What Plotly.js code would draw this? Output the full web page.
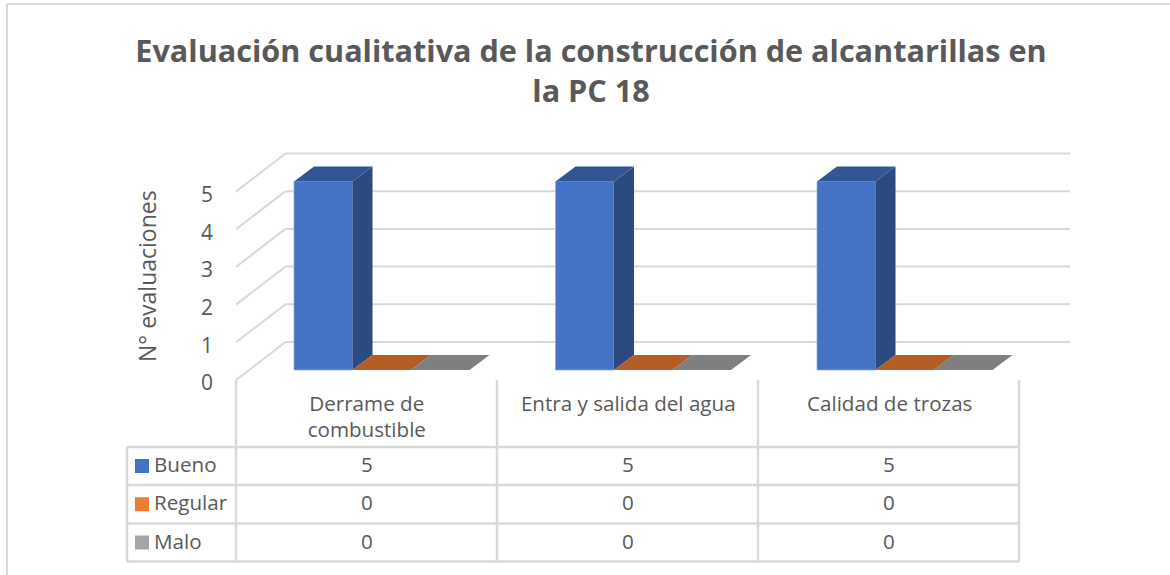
<!DOCTYPE html>
<html><head><meta charset="utf-8">
<script src="https://cdn.plot.ly/plotly-3.0.1.min.js"></script>
<style>html,body{margin:0;padding:0;background:#fff}#c{width:1170px;height:575px}</style>
</head><body><div id="c"></div>
<script>
const chartTitle = 'Evaluación cualitativa de la construcción de alcantarillas en<br>la PC 18';
const yAxisLabel = 'N° evaluaciones';
const categories = ['Derrame de<br>combustible', 'Entra y salida del agua', 'Calidad de trozas'];
const seriesNames = ['Bueno', 'Regular', 'Malo'];
const bueno = [5, 5, 5];
const regular = [0, 0, 0];
const malo = [0, 0, 0];
const yTicks = [0, 1, 2, 3, 4, 5];

const allSeries = [bueno, regular, malo];
const frontColors = ['#4472C4', '#ED7D31', '#A5A5A5'];
const sideColors = ['#2A4A80', '#9E5222', '#6E6E6E'];
const topColors = ['#335593', '#B55D22', '#7F7F7F'];

const W = 1170, H = 575;
const plotL = 236, plotR = 1070, plotT = 150, plotB = 380;
const pxPerCat = 261.5, pxPerVal = 37.7;
const X = p => p / pxPerCat, Y = p => p / pxPerVal;
const px = x => (x - plotL) / (plotR - plotL), py = y => (plotB - y) / (plotB - plotT);

const FONT = '"Open Sans", sans-serif';
const TXT = '#595959', GRID = '#D9D9D9';
const SIZE = 20.6;

const barW = X(58.5), barOff = X(58), barBase = Y(10);
const depthX = X(20), depthY = Y(15), wallX = X(49.5), wallY = Y(38);

const traces = [], shapes = [], annotations = [];

// bars: front faces
allSeries.forEach((vals, k) => {
  traces.push({
    type: 'bar', name: seriesNames[k], showlegend: false, hoverinfo: 'skip',
    x: vals.map((_, i) => i + barOff + barW * (k + 0.5)),
    y: vals, base: vals.map(() => barBase), width: barW,
    marker: {color: frontColors[k], line: {color: '#8FAADC', width: k === 0 ? 0.75 : 0}}
  });
});
// side and top faces
allSeries.forEach((vals, k) => {
  const sx = [], sy = [], tx = [], ty = [];
  vals.forEach((v, i) => {
    const l = i + barOff + barW * k, r = l + barW, b = barBase, t = barBase + v;
    if (v > 0) { sx.push(r, r + depthX, r + depthX, r, r, null); sy.push(b, b + depthY, t + depthY, t, b, null); }
    tx.push(l, r, r + depthX, l + depthX, l, null); ty.push(t, t, t + depthY, t + depthY, t, null);
  });
  if (sx.length) traces.push({type:'scatter', mode:'lines', x:sx, y:sy, fill:'toself', fillcolor:sideColors[k], line:{width:0}, showlegend:false, hoverinfo:'skip', cliponaxis:false});
  traces.push({type:'scatter', mode:'lines', x:tx, y:ty, fill:'toself', fillcolor:topColors[k], line:{width:0}, showlegend:false, hoverinfo:'skip', cliponaxis:false});
});

// back wall gridlines and side wall diagonals
const xMax = (plotR - plotL) / pxPerCat;
const yMax = (plotB - plotT) / pxPerVal;
yTicks.forEach(v => {
  shapes.push({type:'line', layer:'below', xref:'x', yref:'y', x0:wallX, x1:xMax, y0:v+wallY, y1:v+wallY, line:{color:GRID, width:2}});
  shapes.push({type:'line', layer:'below', xref:'x', yref:'y', x0:0, x1:wallX, y0:v, y1:v+wallY, line:{color:GRID, width:2}});
});

// outer frame
const pline = (x0, y0, x1, y1, w) => shapes.push({type:'line', xref:'paper', yref:'paper', x0:px(x0), x1:px(x1), y0:py(y0), y1:py(y1), line:{color:GRID, width:w||2}});
pline(7, 4, 1170, 4);
pline(7, 4, 7, 575);

// data table
const colX = [236, 497, 758, 1019], rowY = [447, 485, 523.5, 561.5], tableL = 127;
rowY.forEach(y => pline(tableL, y, colX[3], y, 2.5));
pline(tableL, rowY[0], tableL, rowY[3], 2.5);
colX.forEach(x => pline(x, 380, x, rowY[3], 2.5));

const note = (text, x, y, anchor, size) => annotations.push({text, xref:'paper', yref:'paper', x:px(x), y:py(y), xanchor:anchor, yanchor:'middle', showarrow:false, font:{family:FONT, size:size||SIZE, color:TXT}});
seriesNames.forEach((name, k) => {
  const cy = (rowY[k] + rowY[k + 1]) / 2;
  shapes.push({type:'rect', xref:'paper', yref:'paper', x0:px(135), x1:px(149), y0:py(cy-7), y1:py(cy+7), fillcolor:frontColors[k], line:{width:0}});
  note(name, 152, cy - 2, 'left');
  allSeries[k].forEach((v, i) => note(String(v), (colX[i] + colX[i + 1]) / 2, cy - 2, 'center'));
});
annotations.push({text:yAxisLabel, xref:'paper', yref:'paper', x:px(147), y:py(276), xanchor:'center', yanchor:'middle', textangle:-90, showarrow:false, font:{family:FONT, size:23, color:TXT}});

Plotly.newPlot('c', traces, {
  width: W, height: H, showlegend: false, barmode: 'overlay', bargap: 0,
  paper_bgcolor: '#fff', plot_bgcolor: 'rgba(0,0,0,0)',
  margin: {l: plotL, r: W - plotR, t: plotT, b: H - plotB, pad: 0},
  font: {family: FONT, color: TXT, size: SIZE},
  title: {text: chartTitle, font: {family: FONT, size: 30.6, color: TXT, weight: 700}, x: 591 / W, xanchor: 'center', y: 1 - 62 / H, yanchor: 'middle'},
  xaxis: {type:'linear', range:[0, xMax], tickmode:'array', tickvals:categories.map((_, i) => i + 0.5), ticktext:categories, ticks:'', showgrid:false, zeroline:false, showline:false, tickangle:0, tickfont:{family:FONT, size:SIZE, color:TXT}, ticklabelstandoff:9},
  yaxis: {range:[0, yMax], tickmode:'array', tickvals:yTicks, ticktext:yTicks.map(String), ticks:'', showgrid:false, zeroline:false, showline:false, tickfont:{family:FONT, size:21, color:TXT}, ticklabelstandoff:22, ticklabelshift:3},
  shapes, annotations
}, {displayModeBar: false, staticPlot: true});
</script></body></html>
